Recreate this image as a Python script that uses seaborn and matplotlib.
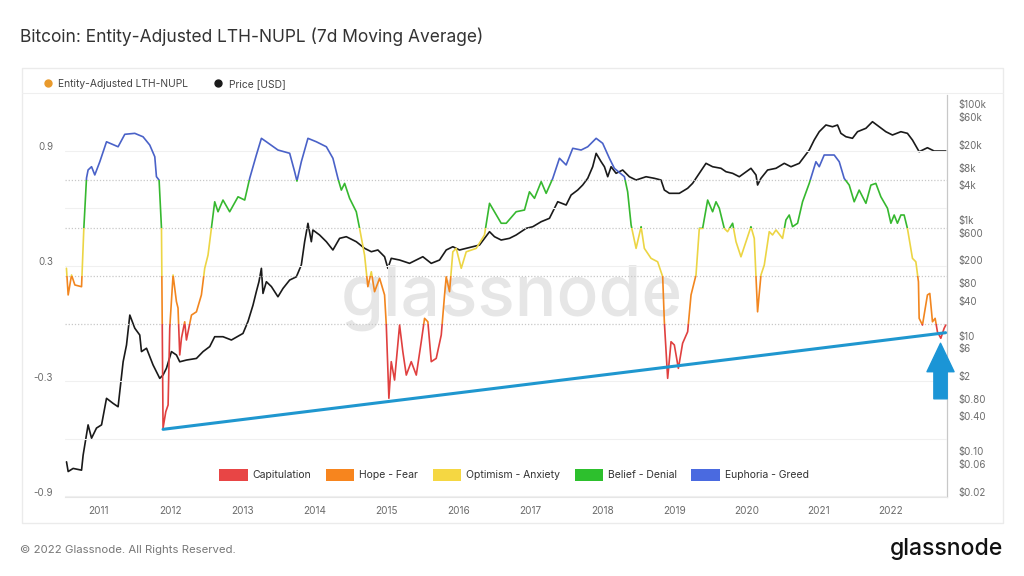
import matplotlib
matplotlib.use("Agg")
import matplotlib.pyplot as plt
import matplotlib.transforms as mtransforms
from matplotlib.patches import Rectangle, Patch
from matplotlib.lines import Line2D
import seaborn as sns
import pandas as pd

sns.set_theme(style="white")
plt.rcParams["font.family"] = ["Inter", "DejaVu Sans"]

# ---------------- data ----------------
nupl_year = [2010.550, 2010.574, 2010.621, 2010.667, 2010.760, 2010.792, 2010.829, 2010.851, 2010.899, 2010.944,
             2011.014, 2011.107, 2011.268, 2011.361, 2011.500, 2011.615, 2011.708, 2011.778, 2011.801, 2011.838,
             2011.871, 2011.893, 2011.931, 2011.963, 2011.986, 2012.032, 2012.079, 2012.101, 2012.125, 2012.149,
             2012.194, 2012.218, 2012.288, 2012.357, 2012.426, 2012.472, 2012.518, 2012.565, 2012.611, 2012.657,
             2012.726, 2012.819, 2012.935, 2013.028, 2013.097, 2013.190, 2013.260, 2013.329, 2013.490, 2013.653,
             2013.722, 2013.754, 2013.815, 2013.907, 2014.024, 2014.163, 2014.254, 2014.324, 2014.371, 2014.417,
             2014.486, 2014.579, 2014.625, 2014.694, 2014.740, 2014.788, 2014.833, 2014.903, 2014.972, 2014.996,
             2015.032, 2015.065, 2015.111, 2015.181, 2015.226, 2015.274, 2015.343, 2015.413, 2015.482, 2015.528,
             2015.574, 2015.621, 2015.690, 2015.760, 2015.806, 2015.829, 2015.875, 2015.921, 2015.968, 2016.038,
             2016.107, 2016.246, 2016.361, 2016.431, 2016.500, 2016.593, 2016.663, 2016.801, 2016.917, 2016.986,
             2017.056, 2017.149, 2017.218, 2017.310, 2017.403, 2017.496, 2017.588, 2017.704, 2017.796, 2017.913,
             2018.004, 2018.097, 2018.167, 2018.306, 2018.351, 2018.399, 2018.468, 2018.538, 2018.583, 2018.676,
             2018.768, 2018.838, 2018.861, 2018.907, 2018.954, 2019.000, 2019.056, 2019.115, 2019.185, 2019.232,
             2019.301, 2019.347, 2019.393, 2019.463, 2019.532, 2019.579, 2019.625, 2019.694, 2019.740, 2019.810,
             2019.857, 2019.926, 2019.996, 2020.065, 2020.111, 2020.157, 2020.204, 2020.250, 2020.319, 2020.365,
             2020.413, 2020.504, 2020.551, 2020.597, 2020.643, 2020.713, 2020.782, 2020.875, 2020.968, 2021.014,
             2021.083, 2021.222, 2021.292, 2021.361, 2021.431, 2021.500, 2021.569, 2021.663, 2021.732, 2021.801,
             2021.871, 2021.963, 2022.010, 2022.056, 2022.101, 2022.149, 2022.194, 2022.240, 2022.310, 2022.357,
             2022.393, 2022.403, 2022.449, 2022.472, 2022.518, 2022.551, 2022.588, 2022.625, 2022.657, 2022.704,
             2022.750, 2022.773]
nupl_value = [0.288, 0.149, 0.253, 0.201, 0.192, 0.498, 0.759, 0.801, 0.818, 0.775,
              0.844, 0.948, 0.922, 0.987, 0.992, 0.974, 0.931, 0.870, 0.766, 0.748,
              0.498, -0.545, -0.460, -0.425, -0.024, 0.253, 0.114, 0.081, -0.164, -0.076,
              0.009, -0.086, 0.044, 0.061, 0.149, 0.288, 0.357, 0.498, 0.635, 0.583,
              0.644, 0.583, 0.661, 0.644, 0.757, 0.879, 0.966, 0.948, 0.905, 0.888,
              0.792, 0.743, 0.844, 0.966, 0.948, 0.922, 0.862, 0.757, 0.696, 0.731,
              0.653, 0.583, 0.496, 0.357, 0.192, 0.270, 0.166, 0.236, 0.149, -0.008,
              -0.390, -0.199, -0.295, -0.008, -0.147, -0.269, -0.199, -0.269, -0.095, 0.027,
              0.009, -0.199, -0.182, -0.060, 0.149, 0.244, 0.166, 0.374, 0.392, 0.288,
              0.374, 0.392, 0.462, 0.627, 0.583, 0.523, 0.523, 0.583, 0.592, 0.687,
              0.653, 0.740, 0.679, 0.757, 0.862, 0.827, 0.914, 0.905, 0.922, 0.966,
              0.940, 0.862, 0.809, 0.766, 0.687, 0.514, 0.392, 0.505, 0.392, 0.340,
              0.322, 0.244, 0.009, -0.286, -0.095, -0.112, -0.234, -0.103, -0.043, 0.149,
              0.253, 0.496, 0.496, 0.644, 0.583, 0.635, 0.601, 0.496, 0.479, 0.523,
              0.427, 0.348, 0.427, 0.505, 0.444, 0.061, 0.253, 0.305, 0.479, 0.462,
              0.488, 0.444, 0.540, 0.566, 0.505, 0.523, 0.635, 0.731, 0.844, 0.818,
              0.879, 0.879, 0.844, 0.757, 0.722, 0.635, 0.696, 0.627, 0.722, 0.731,
              0.661, 0.601, 0.523, 0.566, 0.523, 0.566, 0.566, 0.496, 0.340, 0.322,
              0.218, 0.027, -0.008, 0.044, 0.149, 0.157, 0.009, 0.027, -0.043, -0.077,
              -0.025, -0.008]

price_year = [2010.551, 2010.574, 2010.643, 2010.760, 2010.782, 2010.851, 2010.899, 2010.968, 2011.038, 2011.107,
              2011.199, 2011.268, 2011.338, 2011.385, 2011.431, 2011.500, 2011.569, 2011.593, 2011.663, 2011.754,
              2011.801, 2011.847, 2011.893, 2011.940, 2012.010, 2012.079, 2012.125, 2012.218, 2012.357, 2012.449,
              2012.542, 2012.611, 2012.726, 2012.843, 2013.004, 2013.074, 2013.143, 2013.190, 2013.226, 2013.260,
              2013.282, 2013.329, 2013.399, 2013.490, 2013.560, 2013.653, 2013.746, 2013.815, 2013.861, 2013.907,
              2013.954, 2013.976, 2014.069, 2014.163, 2014.254, 2014.347, 2014.440, 2014.579, 2014.694, 2014.788,
              2014.879, 2014.972, 2015.018, 2015.065, 2015.181, 2015.319, 2015.504, 2015.621, 2015.736, 2015.829,
              2015.921, 2016.014, 2016.107, 2016.292, 2016.361, 2016.431, 2016.500, 2016.593, 2016.708, 2016.801,
              2016.940, 2017.032, 2017.149, 2017.264, 2017.379, 2017.496, 2017.565, 2017.657, 2017.726, 2017.796,
              2017.865, 2017.913, 2017.982, 2018.028, 2018.074, 2018.121, 2018.190, 2018.282, 2018.375, 2018.468,
              2018.607, 2018.722, 2018.815, 2018.861, 2018.931, 2019.069, 2019.185, 2019.254, 2019.347, 2019.440,
              2019.532, 2019.649, 2019.718, 2019.810, 2019.903, 2020.065, 2020.135, 2020.157, 2020.204, 2020.296,
              2020.413, 2020.528, 2020.621, 2020.736, 2020.806, 2020.875, 2020.944, 2021.014, 2021.107, 2021.199,
              2021.268, 2021.315, 2021.385, 2021.476, 2021.546, 2021.663, 2021.754, 2021.847, 2021.940, 2022.032,
              2022.149, 2022.240, 2022.310, 2022.403, 2022.518, 2022.611, 2022.773]
price_usd = [0.078, 0.053, 0.060, 0.056, 0.102, 0.34, 0.20, 0.30, 0.34, 0.98,
             0.80, 0.70, 4.2, 8.2, 27, 16, 12.2, 6.3, 7.2, 3.7,
             2.83, 2.17, 2.48, 3.24, 6.3, 5.5, 4.2, 4.5, 4.8, 6.3,
             7.7, 11.4, 11.4, 10, 13, 21, 40, 69, 102, 174,
             64, 102, 84, 56, 78, 109, 124, 199, 502, 1045,
             502, 800, 656, 502, 361, 574, 613, 502, 386, 337,
             361, 276, 174, 259, 242, 212, 276, 212, 242, 361,
             411, 361, 386, 440, 574, 748, 613, 537, 574, 656,
             855, 912, 1114, 1275, 2470, 2166, 3226, 3937, 4806, 6276,
             9953, 16982, 12160, 9953, 6683, 9953, 7656, 8730, 6683, 5861,
             6683, 6276, 5861, 3937, 3451, 3451, 4217, 5140, 7656, 11400,
             9953, 9350, 8160, 7656, 6683, 9350, 7160, 4806, 6276, 8730,
             9350, 11400, 9953, 11400, 14830, 19360, 28840, 40180, 52480, 48980,
             52480, 37670, 32890, 30900, 40180, 46030, 59840, 48980, 40180, 35240,
             40180, 37670, 28840, 18110, 21230, 18620, 18620]

trend_year = [2011.893, 2022.770]
trend_value = [-0.552, -0.048]

zone_names = ["Capitulation", "Hope - Fear", "Optimism - Anxiety", "Belief - Denial", "Euphoria - Greed"]
zone_bounds = [(-2.0, 0.0), (0.0, 0.25), (0.25, 0.5), (0.5, 0.75), (0.75, 2.0)]
zone_colors = ["#e0403f", "#f2861f", "#ecd544", "#36b82f", "#4a62c8"]
zone_legend_colors = ["#e84545", "#f7851e", "#f5d742", "#2dc02d", "#4a6ae0"]

year_ticks = list(range(2011, 2023))
nupl_ticks = [-0.9, -0.3, 0.3, 0.9]
price_ticks = [0.02, 0.06, 0.1, 0.4, 0.8, 2, 6, 10, 40, 80, 200, 600, 1000, 4000, 8000, 20000, 60000, 100000]
price_labels = ["$0.02", "$0.06", "$0.10", "$0.40", "$0.80", "$2", "$6", "$10", "$40", "$80", "$200",
                "$600", "$1k", "$4k", "$8k", "$20k", "$60k", "$100k"]

nupl_df = pd.DataFrame({"year": nupl_year, "nupl": nupl_value})
price_df = pd.DataFrame({"year": price_year, "price": price_usd})
trend_df = pd.DataFrame({"year": trend_year, "nupl": trend_value})

# ---------------- figure ----------------
W, H = 1024, 576
fig = plt.figure(figsize=(W / 100, H / 100), dpi=100)
fig.patch.set_facecolor("white")

# panel
fig.add_artist(Rectangle((22 / W, 1 - 523 / H), (1003 - 22) / W, (523 - 68) / H,
                         transform=fig.transFigure, facecolor="white", edgecolor="#ebebeb", lw=1.0, zorder=0))
fig.add_artist(Line2D([22 / W, 1003 / W], [1 - 93 / H, 1 - 93 / H], transform=fig.transFigure,
                      color="#efefef", lw=0.8))

ax = fig.add_axes([65 / W, 1 - 497 / H, (947 - 65) / W, (497 - 95) / H])
ax2 = ax.twinx()
ax.set_zorder(ax2.get_zorder() + 1)
ax.patch.set_visible(False)

xmin, xmax = 2010.53, 2022.79
ax.set_xlim(xmin, xmax)
ax.set_ylim(-0.905, 1.192)
ax2.set_yscale("log")
ax2.set_ylim(0.01922, 173400)

# gridlines
for v in [-0.9, -0.6, -0.3, 0.3, 0.6, 0.9]:
    ax.axhline(v, color="#f0f0f0", lw=0.8, zorder=0)
for v in [0.0, 0.25, 0.5, 0.75]:
    ax.axhline(v, color="#c8c8c8", lw=0.9, ls=(0, (1, 1.5)), zorder=0)

# price line
sns.lineplot(data=price_df, x="year", y="price", ax=ax2, color="#1a1a1a", lw=1.2,
             estimator=None, sort=False, legend=False)

# NUPL line coloured by zone (clipped bands)
for (lo, hi), c in zip(zone_bounds, zone_colors):
    sns.lineplot(data=nupl_df, x="year", y="nupl", ax=ax, color=c, lw=1.2,
                 estimator=None, sort=False, legend=False)
    ln = ax.lines[-1]
    clip = Rectangle((xmin - 1, lo), (xmax - xmin) + 2, hi - lo, transform=ax.transData)
    ln.set_clip_path(clip)

# trend line
sns.lineplot(data=trend_df, x="year", y="nupl", ax=ax, color="#1f97cf", lw=2.2,
             estimator=None, sort=False, legend=False)

# arrow
ax.annotate("", xy=(2022.70, -0.103), xytext=(0, -40), textcoords="offset points",
            arrowprops=dict(width=9.6, headwidth=19.5, headlength=20.5, color="#1b95d6", shrink=0),
            zorder=10)

# axes styling
for s in ["top", "left"]:
    ax.spines[s].set_visible(False)
    ax2.spines[s].set_visible(False)
ax.spines["bottom"].set_color("#e6e6e6")
ax.spines["bottom"].set_linewidth(0.8)
ax2.spines["bottom"].set_visible(False)
ax.spines["right"].set_visible(False)
ax2.spines["right"].set_color("#c8c8c8")
ax2.spines["right"].set_linewidth(0.9)

ax.set_xlabel("")
ax.set_ylabel("")
ax2.set_ylabel("")
ax.set_xticks(year_ticks)
ax.set_xticklabels([str(y) for y in year_ticks])
ax.set_yticks(nupl_ticks)
ax.set_yticklabels([f"{v:.1f}" for v in nupl_ticks])
ax2.set_yticks(price_ticks)
ax2.set_yticklabels(price_labels)
ax2.yaxis.set_minor_locator(matplotlib.ticker.NullLocator())

ax.tick_params(axis="x", length=0, pad=6.5, labelsize=7.2, labelcolor="#6b6b6b")
ax.tick_params(axis="y", length=0, pad=8.5, labelsize=7.0, labelcolor="#6b6b6b")
ax2.tick_params(axis="y", length=0, pad=8.0, labelsize=7.0, labelcolor="#6b6b6b")

offset = mtransforms.ScaledTranslation(0, 0.045, fig.dpi_scale_trans)
for t in ax.yaxis.get_major_ticks():
    t.label1.set_transform(t.label1.get_transform() + offset)
for t in ax2.yaxis.get_major_ticks():
    t.label2.set_transform(t.label2.get_transform() + offset)

# bottom zone legend
handles = [Patch(facecolor=c, edgecolor="none") for c in zone_legend_colors]
leg = ax.legend(handles, zone_names, loc="center", bbox_to_anchor=(0.509, 1 - (475 - 95) / (497 - 95)),
                ncol=5, frameon=False, fontsize=7.5, handlelength=2.75, handleheight=1.35,
                handletextpad=0.45, columnspacing=1.4)
for txt in leg.get_texts():
    txt.set_color("#333333")

# top series legend
top_handles = [Line2D([], [], marker="o", ls="", color="#e99a2c", markersize=5),
               Line2D([], [], marker="o", ls="", color="#1a1a1a", markersize=5)]
fig.legend(top_handles, ["Entity-Adjusted LTH-NUPL", "Price [USD]"], loc="center left",
           bbox_to_anchor=(28 / W, 1 - 84 / H), ncol=2, frameon=False, fontsize=7.4,
           handletextpad=0.05, columnspacing=1.9, labelcolor="#444444")

# watermark
fig.text(512 / W, 1 - 298 / H, "glassnode", ha="center", va="center", fontsize=50,
         color="#e6e6e6", zorder=0.5, fontweight="medium")

# title & footer
fig.text(20 / W, 1 - 37 / H, "Bitcoin: Entity-Adjusted LTH-NUPL (7d Moving Average)", ha="left",
         va="center", fontsize=12.5, color="#333333")
fig.text(20 / W, 1 - 550 / H, "© 2022 Glassnode. All Rights Reserved.", ha="left", va="center",
         fontsize=8.2, color="#777777")
fig.text(1003 / W, 1 - 549 / H, "glassnode", ha="right", va="center", fontsize=16.5,
         color="#111111", fontweight="medium")

fig.savefig("out.png", dpi=100, facecolor="white")
